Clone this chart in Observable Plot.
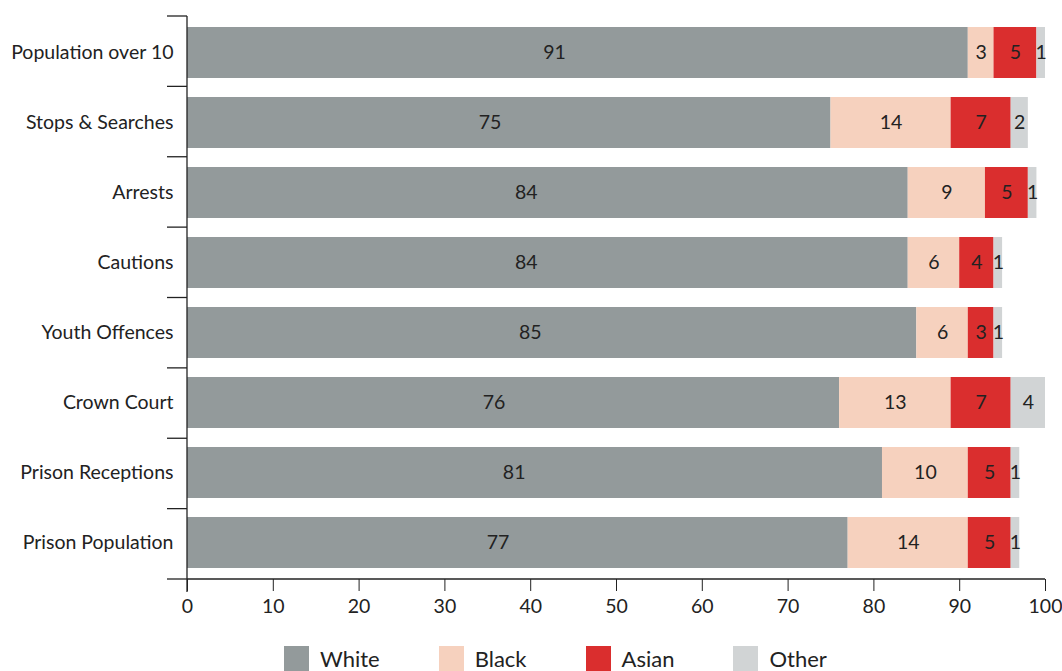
<!DOCTYPE html>
<html><head><meta charset="utf-8">
<script src="https://cdn.jsdelivr.net/npm/d3@7"></script>
<script src="https://cdn.jsdelivr.net/npm/@observablehq/plot@0.6"></script>
<style>
body{margin:0;background:#fff;font-family:Lato,"Open Sans",sans-serif;color:#222}
#legend{display:flex;align-items:center;padding-left:284px;margin-top:14px;font-size:22px;height:25px;line-height:25px}
.item{display:flex;align-items:center;margin-right:59px}
.sw{width:25px;height:25px;margin-right:11px}
</style></head><body><div id="chart"></div><div id="legend"></div>
<script>
const categories = ["Population over 10","Stops & Searches","Arrests","Cautions","Youth Offences","Crown Court","Prison Receptions","Prison Population"];
const groups = ["White","Black","Asian","Other"];
const white = [91,75,84,84,85,76,81,77];
const black = [3,14,9,6,6,13,10,14];
const asian = [5,7,5,4,3,7,5,5];
const other = [1,2,1,1,1,4,1,1];
const xTicks = [0,10,20,30,40,50,60,70,80,90,100];
const colors = ["#939a9b","#f6d1be","#da2e2e","#d1d4d5"];

const series = [white, black, asian, other];
const rows = [];
categories.forEach((c, i) => {
  let acc = 0;
  groups.forEach((g, j) => {
    const v = series[j][i];
    rows.push({category: c, group: g, value: v, x1: acc, x2: acc + v});
    acc += v;
  });
});

function frame(index, scales, values, dims) {
  const {marginLeft, marginTop, marginRight, marginBottom, width, height} = dims;
  const top = marginTop, bottom = height - marginBottom, n = categories.length;
  const step = (bottom - top) / n;
  const g = d3.create("svg:g").attr("stroke", "#222").attr("stroke-width", 1.3);
  g.append("line").attr("x1", marginLeft).attr("x2", marginLeft).attr("y1", top).attr("y2", bottom + 13);
  g.append("line").attr("x1", marginLeft).attr("x2", width - marginRight).attr("y1", bottom).attr("y2", bottom);
  for (let i = 0; i <= n; i++) {
    const y = top + i * step;
    g.append("line").attr("x1", marginLeft - 20).attr("x2", marginLeft).attr("y1", y).attr("y2", y);
  }
  return g.node();
}

const chart = Plot.plot({
  width: 1062,
  height: 632,
  marginLeft: 187,
  marginRight: 17,
  marginTop: 16,
  marginBottom: 53,
  style: {fontFamily: "Lato, 'Open Sans', sans-serif", fontSize: "19.5px", color: "#222", background: "#fff"},
  x: {domain: [0, 100], ticks: xTicks, tickSize: 12, tickPadding: 8, label: null, tickFormat: d => String(d)},
  y: {domain: categories, paddingInner: 0.275, paddingOuter: 0.1375, tickSize: 0, tickPadding: 14, label: null},
  color: {domain: groups, range: colors},
  marks: [
    Plot.barX(rows, {y: "category", x1: "x1", x2: "x2", fill: "group"}),
    Plot.text(rows, {
      y: "category",
      x: d => d.group === "White" ? d.x1 + 0.47 * d.value : (d.x1 + d.x2) / 2,
      text: d => String(d.value),
      fontSize: 19.5,
      fill: "#222"
    }),
    frame
  ]
});
document.getElementById("chart").appendChild(chart);

const legend = document.getElementById("legend");
groups.forEach((g, i) => {
  const item = document.createElement("div");
  item.className = "item";
  const sw = document.createElement("div");
  sw.className = "sw";
  sw.style.background = colors[i];
  const label = document.createElement("span");
  label.textContent = g;
  item.appendChild(sw);
  item.appendChild(label);
  legend.appendChild(item);
});
</script>
</body></html>
